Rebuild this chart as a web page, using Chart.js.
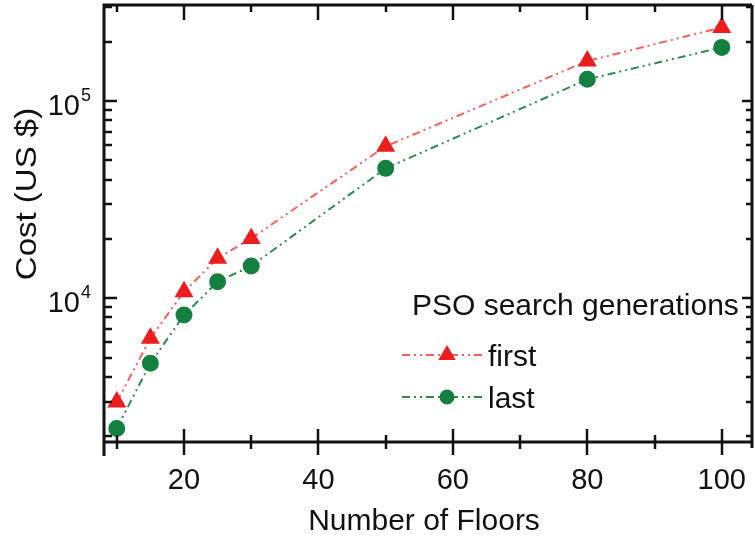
<!DOCTYPE html>
<html lang="en">
<head>
<meta charset="UTF-8">
<title>PSO cost vs number of floors</title>
<script src="https://cdn.jsdelivr.net/npm/chart.js"></script>
<style>
  body { margin: 0; background: #fff; }
  #wrap { width: 755px; height: 537px; }
</style>
</head>
<body>
<div id="wrap"><canvas id="costChart" width="755" height="537"></canvas></div>
<script>
// Cost of the best design found by PSO, first vs last generation
const floors = [10, 15, 20, 25, 30, 50, 80, 100];
const costFirst = [2980, 6270, 10800, 15960, 20140, 59000, 159600, 236300];
const costLast = [2190, 4690, 8230, 12140, 14590, 45600, 128900, 187200];

const xMajorTicks = [20, 40, 60, 80, 100];
const xMinorTicks = [10, 30, 50, 70, 90];
const yDecades = [1e4, 1e5];
const yDecadeLabels = [['10', '4'], ['10', '5']];
const legendTitle = 'PSO search generations';
const seriesNames = ['first', 'last'];

const FONT = '"Liberation Sans", Arial, Helvetica, sans-serif';

// minor ticks of the log axis: 2..9 x each decade
const yMinorTicks = [];
[1e3, 1e4, 1e5].forEach(d => {
    for (let m = 2; m <= 9; m++) yMinorTicks.push(m * d);
});

const axesPlugin = {
    id: 'axesPlugin',
    afterDraw(chart) {
        const ctx = chart.ctx;
        const { left, right, top, bottom } = chart.chartArea;
        const xs = chart.scales.x;
        const ys = chart.scales.y;
        ctx.save();
        ctx.strokeStyle = '#111';
        ctx.fillStyle = '#111';

        // frame
        ctx.lineWidth = 3;
        ctx.beginPath();
        ctx.moveTo(left - 1.5, top);
        ctx.lineTo(right, top);
        ctx.moveTo(right, top);
        ctx.lineTo(right, bottom + 6);
        ctx.moveTo(left, bottom);
        ctx.lineTo(right, bottom);
        ctx.moveTo(left, top);
        ctx.lineTo(left, bottom + 14);
        ctx.stroke();

        // x ticks (bottom crosses the axis, top points inward)
        ctx.lineWidth = 2.5;
        ctx.beginPath();
        xMajorTicks.forEach(v => {
            const px = Math.round(xs.getPixelForValue(v));
            ctx.moveTo(px, bottom - 13); ctx.lineTo(px, bottom + 13);
            ctx.moveTo(px, top); ctx.lineTo(px, top + 15);
        });
        xMinorTicks.forEach(v => {
            const px = Math.round(xs.getPixelForValue(v));
            ctx.moveTo(px, bottom - 7); ctx.lineTo(px, bottom + 7);
            ctx.moveTo(px, top); ctx.lineTo(px, top + 7);
        });
        // y ticks, inward on both sides
        yDecades.forEach(v => {
            const py = Math.round(ys.getPixelForValue(v));
            ctx.moveTo(left, py); ctx.lineTo(left + 13, py);
            ctx.moveTo(right, py); ctx.lineTo(right - 10, py);
        });
        yMinorTicks.forEach(v => {
            if (v < ys.min || v > ys.max) return;
            const py = Math.round(ys.getPixelForValue(v));
            ctx.moveTo(left, py); ctx.lineTo(left + 8, py);
            ctx.moveTo(right, py); ctx.lineTo(right - 6, py);
        });
        ctx.stroke();

        // x tick labels
        ctx.font = '29px ' + FONT;
        ctx.textAlign = 'center';
        ctx.textBaseline = 'alphabetic';
        xMajorTicks.forEach(v => {
            ctx.fillText(String(v), xs.getPixelForValue(v), 489);
        });

        // y tick labels as 10 with a raised exponent
        yDecades.forEach((v, i) => {
            const py = ys.getPixelForValue(v);
            ctx.font = '29px ' + FONT;
            ctx.textAlign = 'right';
            ctx.fillText(yDecadeLabels[i][0], 80, py + 14);
            ctx.font = '18px ' + FONT;
            ctx.textAlign = 'left';
            ctx.fillText(yDecadeLabels[i][1], 81, py);
        });

        // axis titles
        ctx.font = '30px ' + FONT;
        ctx.textAlign = 'center';
        ctx.fillText('Number of Floors', 424, 530);
        ctx.save();
        ctx.translate(36, 194);
        ctx.rotate(-Math.PI / 2);
        ctx.scale(1.1, 1);
        ctx.fillText('Cost (US $)', 0, 0);
        ctx.restore();

        // legend
        ctx.textAlign = 'left';
        ctx.font = '30px ' + FONT;
        ctx.fillText(legendTitle, 412, 315);
        const rows = [{ y: 355, base: 366 }, { y: 397, base: 408 }];
        chart.data.datasets.forEach((ds, i) => {
            const r = rows[i];
            ctx.save();
            ctx.strokeStyle = ds.borderColor;
            ctx.lineWidth = ds.borderWidth;
            ctx.setLineDash(ds.borderDash);
            ctx.beginPath();
            ctx.moveTo(402, r.y);
            ctx.lineTo(482, r.y);
            ctx.stroke();
            ctx.setLineDash([]);
            ctx.fillStyle = ds.pointBackgroundColor;
            ctx.strokeStyle = ds.pointBorderColor;
            Chart.helpers.drawPoint(ctx, {
                pointStyle: ds.pointStyle,
                radius: ds.pointRadius - 1,
                borderWidth: 1,
                rotation: 0
            }, 447, r.y);
            ctx.restore();
            ctx.fillStyle = '#111';
            ctx.fillText(seriesNames[i], 488, r.base);
        });
        ctx.restore();
    }
};

const dash = [8, 4, 2, 4, 2, 4];

new Chart(document.getElementById('costChart'), {
    type: 'line',
    data: {
        datasets: [{
            label: seriesNames[0],
            data: floors.map((f, i) => ({ x: f, y: costFirst[i] })),
            borderColor: '#ff5c5c',
            borderWidth: 2,
            borderDash: dash,
            pointStyle: 'triangle',
            pointRadius: 9,
            pointBackgroundColor: '#ee1d1d',
            pointBorderColor: '#ee1d1d',
            tension: 0
        }, {
            label: seriesNames[1],
            data: floors.map((f, i) => ({ x: f, y: costLast[i] })),
            borderColor: '#2a8c4e',
            borderWidth: 2,
            borderDash: dash,
            pointStyle: 'circle',
            pointRadius: 7.5,
            pointBackgroundColor: '#13803f',
            pointBorderColor: '#13803f',
            tension: 0
        }]
    },
    options: {
        responsive: false,
        animation: false,
        layout: {
            autoPadding: false,
            padding: { left: 104, right: 3, top: 5, bottom: 95 }
        },
        scales: {
            x: { type: 'linear', min: 8.1, max: 104.5, display: false },
            y: { type: 'logarithmic', min: 1870, max: 307000, display: false }
        },
        plugins: {
            legend: { display: false },
            tooltip: { enabled: false }
        }
    },
    plugins: [axesPlugin]
});
</script>
</body>
</html>
